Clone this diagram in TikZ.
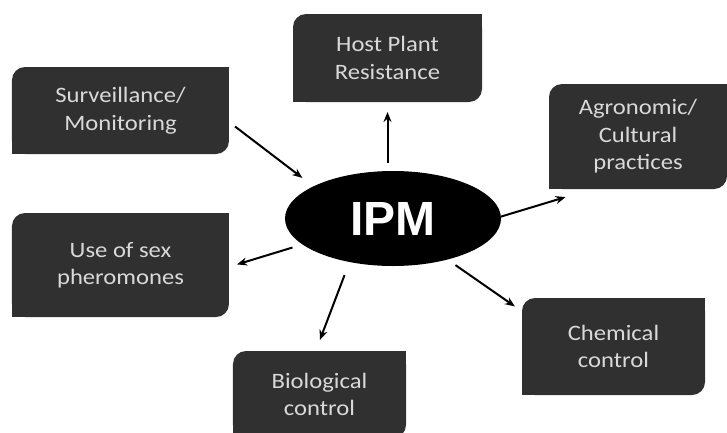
\documentclass[tikz,border=0pt]{standalone}
\usepackage{fontspec}
\setmainfont{Carlito}[FakeStretch=1.12]
\newfontfamily\ipmfont{Liberation Sans}
\usepackage{tikz}
\usetikzlibrary{arrows.meta,positioning,shapes.geometric}
\definecolor{boxgray}{HTML}{303030}
\definecolor{boxtext}{HTML}{D9D9D9}
\tikzset{>/.tip={Stealth[length=10pt,width=8pt]}}
\tikzset{leaf/.style={rectangle,outer sep=0pt,inner sep=4pt,align=center,text=boxtext,
    font=\fontsize{22}{27.5}\selectfont,
    path picture={
      \fill[boxgray,rounded corners=13pt] (path picture bounding box.south west) rectangle (path picture bounding box.north east);
      \fill[boxgray] (path picture bounding box.north east) rectangle ++(-14pt,-14pt);
      \fill[boxgray] (path picture bounding box.south west) rectangle ++(14pt,14pt);}}}

\begin{document}
\begin{tikzpicture}[on grid]
        \useasboundingbox (-393pt,-213.5pt) rectangle (334pt,218.5pt);
        \node(IPM)[ellipse,fill=black,text=white,outer sep=0pt,minimum width=216pt,minimum height=95pt,
          font=\ipmfont\bfseries\fontsize{48}{48}\selectfont]{IPM};
        \node(Surv)[leaf,minimum width=217pt,minimum height=87pt,above left=108pt and 272.5pt of IPM]{Surveillance/\\Monitoring};
        \node(Host)[leaf,minimum width=189pt,minimum height=88pt,above left=160.5pt and 5.5pt of IPM]{Host Plant\\Resistance};
        \node(Agro)[leaf,minimum width=178pt,minimum height=105pt,above right=82pt and 245pt of IPM]{Agronomic/\\Cultural\\practices};
        \node(Sex)[leaf,minimum width=217pt,minimum height=104pt,below left=46.5pt and 272.5pt of IPM]{Use of sex\\pheromones};
        \node(Bio)[leaf,minimum width=173pt,minimum height=87pt,below left=176pt and 73.5pt of IPM]{Biological\\control};
        \node(Chem)[leaf,minimum width=183pt,minimum height=97pt,below right=128pt and 220.5pt of IPM]{Chemical\\control};
        \draw[->,line width=2pt,shorten <=7.6pt,shorten >=14pt] (Surv.-6) -- (IPM.158);
        \draw[->,line width=2pt,shorten <=8pt,shorten >=10pt] (IPM.north -| Host.south) -- (Host.south);
        \draw[->,line width=2pt,shorten >=28pt] (IPM.1) -- (Agro.-131);
        \draw[->,line width=2pt,shorten <=10.5pt,shorten >=8.4pt] (IPM.196) -- (Sex.-1);
        \draw[->,line width=2pt,shorten <=14pt,shorten >=11.8pt] (IPM.225) -- (Bio.95);
        \draw[->,line width=2pt,shorten <=9.8pt,shorten >=8.6pt] (IPM.323) -- (Chem.159);
      \end{tikzpicture}
\end{document}
